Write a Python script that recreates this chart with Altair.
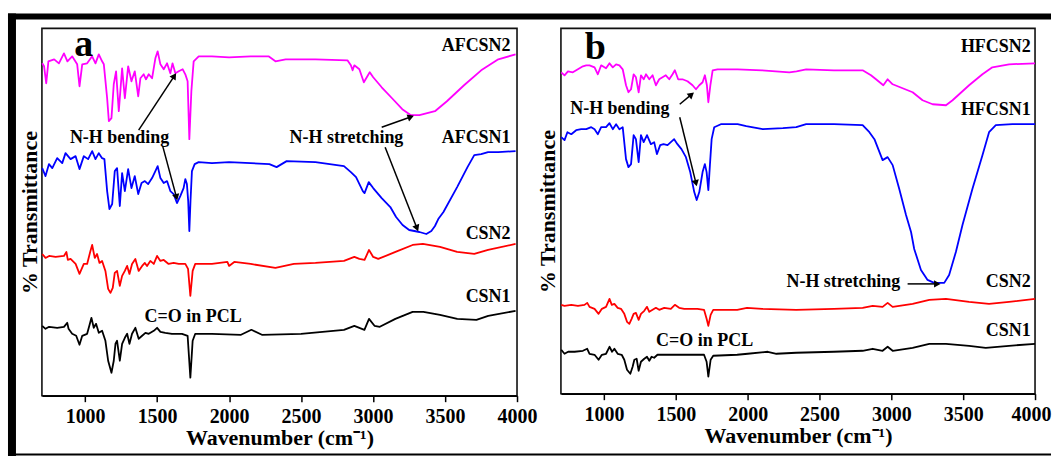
import math
import altair as alt
import pandas as pd

SERIF = "Liberation Serif"
X_DOMAIN = [700, 4000]
X_TICKS = [1000, 1500, 2000, 2500, 3000, 3500, 4000]
COLORS = ["#ff00ff", "#0000ff", "#ff0000", "#000000"]

SERIES_A = ["AFCSN2", "AFCSN1", "CSN2", "CSN1"]
SERIES_B = ["HFCSN2", "HFCSN1", "CSN2", "CSN1"]

# ---- panel a : (wavenumber, transmittance a.u.) ----
A_AFCSN2 = [(702,333),(715,330),(730,313),(745,335),(765,336),(785,337),(818,333),(853,343),(877,335),(910,340),
            (945,332),(961,310),(980,332),(1014,333),(1049,340),(1072,333),(1095,342),(1118,335),(1130,332),(1153,298),
            (1165,275),(1183,278),(1199,312),(1215,325),(1234,285),(1257,328),(1276,298),(1299,330),(1322,315),(1345,325),
            (1369,300),(1384,318),(1407,322),(1423,317),(1442,322),(1465,318),(1488,338),(1504,345),(1523,332),(1546,327),
            (1569,333),(1592,323),(1607,333),(1627,323),(1650,325),(1678,327),(1696,322),(1712,315),(1724,257),(1738,305),
            (1754,335),(1789,340),(1881,340),(2000,339),(2150,340),(2274,340),(2322,335),(2393,337),(2600,337),(2822,336),
            (2846,331),(2858,326),(2870,331),(2905,327),(2936,314),(2977,324),(3001,319),(3060,309),(3132,298),(3203,287),
            (3263,281),(3322,281),(3430,285),(3513,295),(3632,311),(3751,326),(3870,337),(3990,342)]
A_AFCSN1 = [(702,228),(725,220),(749,232),(772,228),(806,238),(841,233),(864,243),(899,237),(934,240),(961,227),
            (991,240),(1021,237),(1049,245),(1072,237),(1095,243),(1118,238),(1134,237),(1153,205),(1169,187),(1188,192),
            (1206,225),(1222,228),(1241,190),(1257,223),(1276,205),(1299,227),(1322,208),(1345,220),(1369,202),(1392,213),
            (1415,215),(1438,212),(1465,218),(1488,225),(1504,230),(1523,218),(1546,213),(1569,215),(1592,205),(1615,202),
            (1638,193),(1661,200),(1684,208),(1696,217),(1707,212),(1716,195),(1724,165),(1732,195),(1742,225),(1761,232),
            (1789,234),(1881,233),(2000,234),(2150,233),(2280,232),(2330,229),(2400,235),(2600,234),(2798,230),(2846,224),
            (2882,219),(2929,205),(2941,203),(2970,214),(3001,208),(3060,198),(3120,189),(3160,179),(3205,171),(3251,166),
            (3322,164),(3370,162),(3405,165),(3430,170),(3453,177),(3489,184),(3584,209),(3656,229),(3703,241),(3751,242),
            (3799,244),(3870,244),(3990,245)]
A_CSN2 = [(702,142),(725,138),(750,140),(795,139),(853,140),(870,144),(880,136),(899,137),(934,132),(961,122),
          (991,132),(1014,132),(1037,145),(1049,151),(1067,138),(1083,142),(1100,133),(1118,135),(1141,125),(1160,107),
          (1176,103),(1192,108),(1206,123),(1222,125),(1241,110),(1257,120),(1276,125),(1292,130),(1308,122),(1326,132),
          (1349,137),(1372,125),(1396,130),(1415,133),(1430,130),(1453,135),(1477,132),(1500,140),(1523,135),(1546,136),
          (1580,132),(1615,133),(1650,132),(1696,132),(1715,127),(1731,100),(1747,125),(1765,132),(1881,132),(1988,134),
          (2000,130),(2036,134),(2150,132),(2322,128),(2450,132),(2600,133),(2798,135),(2870,139),(2905,137),(2941,136),
          (2972,146),(3001,139),(3036,137),(3156,144),(3275,151),(3346,152),(3465,149),(3584,144),(3703,142),(3799,146),
          (3990,152)]
A_CSN1 = [(702,70),(725,67),(750,69),(806,68),(853,69),(876,73),(885,67),(910,62),(938,60),(961,51),
          (980,60),(1014,62),(1033,72),(1044,78),(1060,68),(1076,72),(1095,63),(1118,65),(1141,55),(1160,35),
          (1183,23),(1199,35),(1211,52),(1222,55),(1241,35),(1257,52),(1276,58),(1292,62),(1308,52),(1326,62),
          (1349,68),(1372,57),(1396,60),(1419,63),(1442,62),(1477,65),(1500,68),(1523,64),(1557,63),(1603,62),
          (1673,62),(1712,60),(1731,18),(1747,55),(1765,62),(1881,62),(2083,61),(2155,66),(2228,61),(2500,62),
          (2798,66),(2870,70),(2940,66),(2972,77),(3010,70),(3047,69),(3155,77),(3275,84),(3350,84),(3465,81),
          (3585,77),(3718,76),(3800,80),(3990,85)]

# ---- panel b ----
B_HFCSN2 = [(702,322),(725,319),(749,323),(783,322),(818,325),(853,328),(876,329),(899,329),(934,327),(957,320),
            (980,329),(1014,326),(1038,331),(1061,327),(1084,330),(1107,329),(1130,325),(1153,309),(1170,302),(1188,305),
            (1206,320),(1222,317),(1241,302),(1257,319),(1276,315),(1292,320),(1315,315),(1338,319),(1361,309),(1384,315),
            (1407,317),(1430,319),(1454,315),(1477,320),(1493,324),(1516,315),(1546,315),(1581,313),(1616,309),(1640,305),
            (1663,309),(1686,312),(1702,319),(1716,309),(1726,292),(1740,309),(1756,324),(1790,325),(1930,325),(2100,324),
            (2290,322),(2340,323),(2407,325),(2600,324),(2800,324),(2858,319),(2893,315),(2944,309),(2974,315),(3009,310),
            (3148,302),(3217,294),(3287,290),(3380,289),(3426,294),(3541,309),(3634,320),(3703,327),(3819,330),(4000,331)]
B_HFCSN1 = [(702,257),(725,254),(745,262),(772,260),(806,264),(841,265),(876,265),(911,267),(934,265),(957,260),
            (980,267),(1014,267),(1038,271),(1061,265),(1084,270),(1107,265),(1130,267),(1153,235),(1170,227),(1188,230),
            (1206,259),(1222,255),(1241,232),(1257,259),(1276,252),(1299,259),(1326,250),(1349,252),(1368,240),(1391,249),
            (1414,250),(1442,249),(1465,252),(1488,255),(1511,250),(1539,245),(1570,237),(1600,222),(1628,202),(1645,194),
            (1663,202),(1686,222),(1702,230),(1714,222),(1726,204),(1737,229),(1749,255),(1767,267),(1813,270),(1930,270),
            (1990,268),(2105,265),(2245,266),(2338,267),(2407,270),(2600,270),(2800,269),(2847,262),(2882,255),(2939,234),
            (2974,237),(3009,229),(3055,205),(3102,179),(3137,162),(3159,145),(3206,124),(3252,114),(3298,111),(3368,111),
            (3402,119),(3449,142),(3495,169),(3564,205),(3634,239),(3680,262),(3727,269),(3842,270),(4000,270)]
B_CSN2 = [(702,89),(725,88),(772,89),(818,88),(864,89),(883,91),(899,87),(934,85),(962,80),(985,85),
          (1014,87),(1038,95),(1054,89),(1072,90),(1095,86),(1118,85),(1141,80),(1160,72),(1176,70),(1192,75),
          (1206,80),(1222,81),(1241,74),(1257,80),(1280,83),(1299,87),(1315,82),(1338,84),(1361,86),(1384,84),
          (1419,86),(1465,85),(1493,89),(1523,86),(1558,85),(1604,85),(1650,85),(1696,84),(1714,75),(1726,68),
          (1742,79),(1760,84),(1927,84),(1995,86),(2100,85),(2338,84),(2600,85),(2800,86),(2870,88),(2939,87),
          (2974,91),(3009,87),(3148,90),(3264,94),(3380,95),(3541,92),(3680,90),(3819,92),(4000,95)]
B_CSN1 = [(702,44),(725,40),(750,42),(795,42),(853,43),(883,45),(899,40),(934,39),(962,34),(985,39),
          (1014,40),(1038,47),(1056,42),(1072,45),(1095,40),(1123,39),(1141,34),(1160,24),(1183,20),(1199,27),
          (1211,34),(1227,35),(1241,23),(1257,32),(1280,35),(1299,37),(1315,33),(1331,37),(1349,36),(1372,39),
          (1419,39),(1465,39),(1535,39),(1604,39),(1696,39),(1714,32),(1726,17),(1742,34),(1760,38),(1927,39),
          (2000,40),(2140,42),(2200,40),(2338,41),(2600,42),(2800,43),(2870,45),(2939,43),(2974,47),(3009,43),
          (3148,46),(3264,50),(3380,50),(3541,48),(3657,46),(3819,48),(4000,50)]

# ---- annotations ----
RIGHT_LABELS_A = [("AFCSN2", 3955, 350), ("AFCSN1", 3955, 258), ("CSN2", 3955, 162), ("CSN1", 3955, 99)]
CENTER_LABELS_A = [("N-H bending", 1239, 258), ("N-H stretching", 2815, 258), ("C=O in PCL", 1750, 79)]
LETTER_A = [("a", 991, 340)]
ARROWS_A = [(1372, 266, 1627, 322), (1539, 250, 1638, 197), (3060, 269, 3275, 280), (3084, 249, 3310, 166)]

RIGHT_LABELS_B = [("HFCSN2", 3970, 347), ("HFCSN1", 3970, 284), ("CSN2", 3970, 112), ("CSN1", 3970, 63)]
CENTER_LABELS_B = [("N-H bending", 1110, 285), ("N-H stretching", 2666, 112), ("C=O in PCL", 1700, 53)]
LETTER_B = [("b", 940, 335)]
ARROWS_B = [(1527, 290, 1619, 301), (1527, 277, 1643, 209), (3113, 110, 3333, 110)]

WA, HA = 476, 368
WB, HB = 475, 366
GAP = 44


def panel(names, series, width, height, right_labels, center_labels, letter, arrows,
          y_title_pad, frame, flush):
    rows = []
    for name, pts in zip(names, series):
        for w, v in pts:
            rows.append({"s": name, "w": w, "v": v})
    df = pd.DataFrame(rows)
    xs = alt.Scale(domain=X_DOMAIN, nice=False, zero=False)
    ys = alt.Scale(domain=[0, height], nice=False, zero=False)

    xaxis = dict(values=X_TICKS, format="d", title="Wavenumber (cm⁻¹)", tickSize=6, tickWidth=1.5,
                 labelPadding=5, titlePadding=1, domainWidth=1.5, grid=False)
    if flush:
        xaxis.update(labelFlush=True, labelFlushOffset=flush)
    else:
        xaxis.update(labelFlush=False)

    lines = alt.Chart(df).mark_line(strokeWidth=1.8, strokeJoin="round").encode(
        x=alt.X("w:Q", scale=xs, axis=alt.Axis(**xaxis)),
        y=alt.Y("v:Q", scale=ys, axis=alt.Axis(title="% Transmittance", labels=False, ticks=False,
                                                domain=False, grid=False, titlePadding=y_title_pad,
                                                titleBaseline="alphabetic", minExtent=0)),
        color=alt.Color("s:N", scale=alt.Scale(domain=names, range=COLORS), legend=None),
        detail="s:N",
    )

    tfont = dict(font=SERIF, fontWeight="bold", color="black")
    rl = pd.DataFrame(right_labels, columns=["t", "w", "v"])
    cl = pd.DataFrame(center_labels, columns=["t", "w", "v"])
    lt = pd.DataFrame(letter, columns=["t", "w", "v"])
    right_txt = alt.Chart(rl).mark_text(align="right", baseline="middle", fontSize=18, **tfont).encode(
        x="w:Q", y="v:Q", text="t:N")
    center_txt = alt.Chart(cl).mark_text(align="center", baseline="middle", fontSize=18, **tfont).encode(
        x="w:Q", y="v:Q", text="t:N")
    letter_txt = alt.Chart(lt).mark_text(align="center", baseline="alphabetic", fontSize=38, **tfont).encode(
        x="w:Q", y="v:Q", text="t:N")

    pxw = width / (X_DOMAIN[1] - X_DOMAIN[0])
    arows = []
    for w1, v1, w2, v2 in arrows:
        dx = (w2 - w1) * pxw
        dy = (v2 - v1)
        L = math.hypot(dx, dy)
        ux, uy = dx / L, dy / L
        ang = (math.degrees(math.atan2(dx, dy)) + 360) % 360
        arows.append({"w": w1, "v": v1, "w2": w2 - ux * 3 / pxw, "v2": v2 - uy * 3,
                      "hw": w2 - ux * 3 / pxw, "hv": v2 - uy * 3, "ang": ang})
    adf = pd.DataFrame(arows)
    arrow_lines = alt.Chart(adf).mark_rule(color="black", strokeWidth=1.5).encode(
        x="w:Q", y="v:Q", x2="w2:Q", y2="v2:Q")
    heads = alt.Chart(adf).mark_point(shape="triangle", filled=True, size=55, color="black",
                                      opacity=1, strokeWidth=0).encode(
        x="hw:Q", y="hv:Q", angle=alt.Angle("ang:Q", scale=None))

    one = pd.DataFrame({"k": [0]})
    layers = [lines, right_txt, center_txt, letter_txt, arrow_lines, heads]
    # decorative outer frame (filled rects: exact bounds, no stroke)
    for (x1, x2, y1, y2) in frame:
        layers.append(alt.Chart(one).mark_rect(color="black", strokeWidth=0).encode(
            x=alt.value(x1), x2=alt.value(x2), y=alt.value(y1), y2=alt.value(y2)))

    return alt.layer(*layers).properties(width=width, height=height)


FRAME_RIGHT = WA + GAP + WB + 16
FRAME_A = [(-34, -26, -15, 429),            # left bar
           (-34, FRAME_RIGHT, -15, -9),     # top bar across the figure
           (-34, FRAME_RIGHT, 426, 428)]    # bottom line across the figure

pa = panel(SERIES_A, [A_AFCSN2, A_AFCSN1, A_CSN2, A_CSN1], WA, HA, RIGHT_LABELS_A, CENTER_LABELS_A,
           LETTER_A, ARROWS_A, 5, FRAME_A, 0)
pb = panel(SERIES_B, [B_HFCSN2, B_HFCSN1, B_CSN2, B_CSN1], WB, HB, RIGHT_LABELS_B, CENTER_LABELS_B,
           LETTER_B, ARROWS_B, 6, [], 16)

chart = alt.hconcat(pa, pb, spacing=GAP, bounds="flush").properties(
    padding={"left": 7, "top": 12, "right": 0, "bottom": 0},
    background="white",
).configure_view(stroke="#111111", strokeWidth=1.6).configure_axis(
    labelFont=SERIF, titleFont=SERIF, labelFontWeight="bold", titleFontWeight="bold",
    labelColor="black", titleColor="black", labelFontSize=20, titleFontSize=22,
    tickColor="black", domainColor="black",
)

chart.save("out.html", embed_options={"renderer": "svg", "actions": False})
